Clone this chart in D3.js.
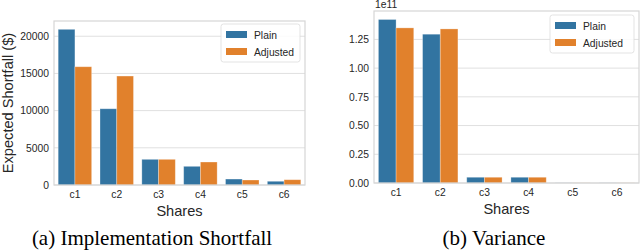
<!DOCTYPE html>
<html>
<head>
<meta charset="utf-8">
<script src="https://cdn.jsdelivr.net/npm/d3@7"></script>
<style>
    body { margin: 0; background: #fff; }
    svg { display: block; }
    .tick text { font-family: "Liberation Sans", Arial, sans-serif; font-size: 10.3px; fill: #262626; }
    .axis-label { font-family: "Liberation Sans", Arial, sans-serif; font-size: 14.6px; fill: #262626; }
    .caption { font-family: "Liberation Serif", "Times New Roman", serif; font-size: 21px; fill: #000; }
    .legend text { font-family: "Liberation Sans", Arial, sans-serif; font-size: 10.3px; fill: #262626; }
</style>
</head>
<body>
<svg id="chart" width="640" height="252"></svg>
<script>
const categories = ["c1", "c2", "c3", "c4", "c5", "c6"];
const seriesNames = ["Plain", "Adjusted"];
const colors = ["#3274a1", "#e1812c"];

// (a) expected shortfall in $
const shortfallPlain = [20930, 10250, 3450, 2510, 800, 500];
const shortfallAdjusted = [15900, 14650, 3450, 3090, 670, 710];
const shortfallTicks = [0, 5000, 10000, 15000, 20000];

// (b) variance, in units of 1e11
const variancePlain = [1.423, 1.295, 0.05, 0.05, 0.001, 0.001];
const varianceAdjusted = [1.350, 1.341, 0.05, 0.05, 0.001, 0.001];
const varianceTicks = [0, 0.25, 0.5, 0.75, 1.0, 1.25];

const svg = d3.select("#chart");

class GroupedBars {
    constructor(g, box, props) {
        this.g = g.append("g").attr("transform", `translate(${box.left},${box.top})`);
        this.top = box.top;
        this.width = box.width;
        this.height = box.height;
        this.props = props;
    }

    render() {
        const p = this.props;
        this.x = d3.scaleBand().domain(categories).range([0, this.width]).paddingInner(0).paddingOuter(0);
        this.x1 = d3.scaleBand().domain(seriesNames).range([this.x.bandwidth() * 0.1, this.x.bandwidth() * 0.9]);
        this.y = d3.scaleLinear().domain([0, p.yMax]).range([this.height, 0]);

        // grid
        this.g.append("g")
            .selectAll("line")
            .data(p.ticks)
            .enter().append("line")
            .attr("x1", 0).attr("x2", this.width)
            .attr("y1", d => this.y(d)).attr("y2", d => this.y(d))
            .attr("stroke", "#e0e0e0").attr("stroke-width", 1);

        // bars
        const rows = categories.map((c, i) => ({ c, vals: [p.plain[i], p.adjusted[i]] }));
        this.g.append("g")
            .selectAll("g")
            .data(rows)
            .enter().append("g")
            .attr("transform", d => `translate(${this.x(d.c)},0)`)
            .selectAll("rect")
            .data(d => d.vals.map((v, k) => ({ v, k })))
            .enter().append("rect")
            .attr("x", d => this.x1(seriesNames[d.k]))
            .attr("y", d => this.y(d.v))
            .attr("width", this.x1.bandwidth())
            .attr("height", d => this.height - this.y(d.v))
            .attr("fill", d => colors[d.k])
            .attr("stroke", "#ffffff")
            .attr("stroke-opacity", 0.35)
            .attr("stroke-width", 0.8);

        // frame
        this.g.append("rect")
            .attr("width", this.width).attr("height", this.height)
            .attr("fill", "none").attr("stroke", "#d6d6d6").attr("stroke-width", 1.2);

        // axes
        this.g.append("g")
            .attr("transform", `translate(0,${this.height})`)
            .call(d3.axisBottom(this.x).tickSize(0).tickPadding(6))
            .call(a => a.select(".domain").remove());

        this.g.append("g")
            .call(d3.axisLeft(this.y).tickValues(p.ticks).tickSize(0).tickPadding(5).tickFormat(p.fmt))
            .call(a => a.select(".domain").remove());

        this.g.append("text")
            .attr("class", "axis-label")
            .attr("x", this.width / 2).attr("y", this.height + 30.5)
            .attr("text-anchor", "middle")
            .text("Shares");

        if (p.yLabel) {
            this.g.append("text")
                .attr("class", "axis-label")
                .attr("transform", `translate(${p.yLabelX},${this.height / 2}) rotate(-90)`)
                .attr("text-anchor", "middle")
                .text(p.yLabel);
        }
        if (p.offsetText) {
            this.g.append("text")
                .attr("x", 1).attr("y", -3)
                .style("font-family", "Liberation Sans, Arial, sans-serif")
                .style("font-size", "10.3px").style("fill", "#262626")
                .text(p.offsetText);
        }

        // legend
        const lg = this.g.append("g").attr("class", "legend")
            .attr("transform", `translate(${this.width - p.legendW - 5},${p.legendTop})`);
        lg.append("rect")
            .attr("width", p.legendW).attr("height", 38).attr("rx", 2.5)
            .attr("fill", "#fff").attr("fill-opacity", 0.85)
            .attr("stroke", "#dcdcdc").attr("stroke-width", 0.8);
        seriesNames.forEach((s, k) => {
            lg.append("rect")
                .attr("x", 5).attr("y", 7 + k * 17)
                .attr("width", 21).attr("height", 7)
                .attr("fill", colors[k]);
            lg.append("text")
                .attr("x", 33).attr("y", 14.5 + k * 17)
                .text(s);
        });

        this.g.append("text")
            .attr("class", "caption")
            .attr("x", p.captionX).attr("y", 245 - this.top)
            .attr("text-anchor", "middle")
            .text(p.caption);
        return this;
    }
}

new GroupedBars(svg, { left: 54, top: 21, width: 251, height: 164 }, {
    yMax: 22050,
    plain: shortfallPlain,
    adjusted: shortfallAdjusted,
    ticks: shortfallTicks,
    fmt: d3.format("d"),
    yLabel: "Expected Shortfall ($)",
    yLabelX: -41,
    legendW: 79,
    legendTop: 3,
    caption: "(a) Implementation Shortfall",
    captionX: 152 - 54
}).render();

new GroupedBars(svg, { left: 374, top: 11, width: 265, height: 172 }, {
    yMax: 1.497,
    plain: variancePlain,
    adjusted: varianceAdjusted,
    ticks: varianceTicks,
    fmt: d3.format(".2f"),
    offsetText: "1e11",
    legendW: 84,
    legendTop: 4,
    caption: "(b) Variance",
    captionX: 494 - 374
}).render();
</script>
</body>
</html>
